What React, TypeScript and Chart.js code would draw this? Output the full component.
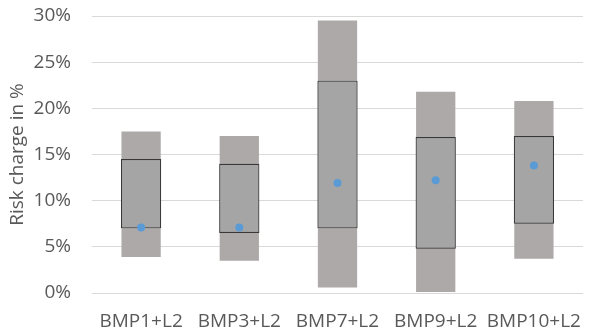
import { useEffect, useRef } from 'react';
import { Chart, registerables } from 'chart.js';
Chart.register(...registerables);

const categories = ['BMP1+L2', 'BMP3+L2', 'BMP7+L2', 'BMP9+L2', 'BMP10+L2'];
const minValues = [3.9, 3.5, 0.6, 0.1, 3.7];
const maxValues = [17.5, 17.0, 29.5, 21.8, 20.8];
const q1Values = [7.0, 6.5, 7.0, 4.8, 7.5];
const q3Values = [14.5, 14.0, 23.0, 16.9, 17.0];
const meanValues = [7.1, 7.1, 11.9, 12.2, 13.8];
const yTickValues = [0, 5, 10, 15, 20, 25, 30];

export default function App() {
  const ref = useRef<HTMLCanvasElement>(null);
  useEffect(() => {
    if (!ref.current) return;
    const font = 'Open Sans';
    const chart = new Chart(ref.current, {
      type: 'bar',
      data: {
        labels: categories,
        datasets: [
          {
            type: 'line',
            data: meanValues,
            showLine: false,
            pointRadius: 4,
            pointHoverRadius: 4,
            pointBackgroundColor: '#5B9BD5',
            pointBorderWidth: 0,
            borderWidth: 0,
            order: 0,
          } as any,
          {
            type: 'bar',
            data: categories.map((_, i) => [q1Values[i], q3Values[i]]),
            backgroundColor: '#A5A5A5',
            borderColor: '#383838',
            borderWidth: 1.2,
            borderSkipped: false,
            grouped: false,
            barPercentage: 0.41,
            categoryPercentage: 1,
            order: 1,
          } as any,
          {
            type: 'bar',
            data: categories.map((_, i) => [minValues[i], maxValues[i]]),
            backgroundColor: '#ADA9A8',
            borderWidth: 0,
            grouped: false,
            barPercentage: 0.4,
            categoryPercentage: 1,
            order: 2,
          } as any,
        ],
      },
      options: {
        animation: false,
        responsive: true,
        maintainAspectRatio: false,
        layout: { padding: { top: 16, right: 6, left: 0, bottom: 0 } },
        plugins: { legend: { display: false }, tooltip: { enabled: false } },
        scales: {
          x: {
            grid: { display: false },
            border: { display: false },
            ticks: {
              color: '#595959',
              font: { family: font, size: 19 },
              padding: 9,
              maxRotation: 0,
              minRotation: 0,
              autoSkip: false,
            },
            afterFit: (s: any) => { s.height = 40; s.paddingLeft = 0; s.paddingRight = 0; },
          },
          y: {
            min: 0,
            max: 30,
            afterBuildTicks: (s: any) => { s.ticks = yTickValues.map((v) => ({ value: v })); },
            ticks: {
              color: '#595959',
              font: { family: font, size: 19 },
              padding: 21,
              callback: (v: any) => v + '%',
            },
            grid: { color: '#D9D9D9', drawTicks: false, lineWidth: 1 },
            border: { display: false },
            title: {
              display: true,
              text: 'Risk charge in %',
              color: '#595959',
              font: { family: font, size: 19, weight: 'normal' },
              padding: { top: 6, bottom: 0 },
            },
            afterFit: (s: any) => { s.width = 92; s.paddingTop = 0; s.paddingBottom = 0; },
          },
        },
      },
    });
    return () => chart.destroy();
  }, []);
  return (
    <div style={{ position: 'fixed', left: 0, top: 0, width: 589, height: 333, background: '#fff' }}>
      <canvas ref={ref} />
    </div>
  );
}
